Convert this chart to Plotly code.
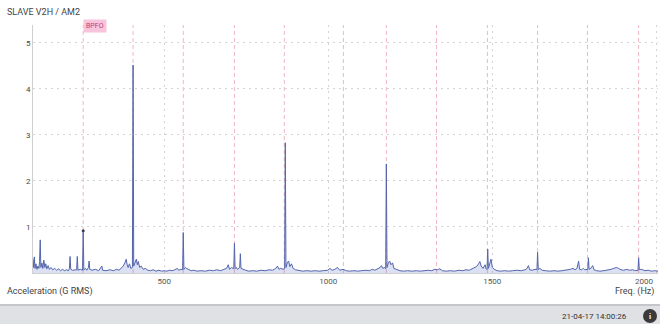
import plotly.graph_objects as go

# ---- data ----
freq_hz = [100, 102, 104, 106, 109, 112, 115, 118, 120, 122, 124, 127, 130, 133, 136, 139, 142, 146, 150, 155,
           160, 166, 172, 178, 184, 190, 196, 202, 208, 211, 213, 215, 220, 233, 235, 237, 244, 251, 253, 255,
           260, 264, 269, 271, 273, 280, 290, 300, 310, 312, 322, 335, 345, 355, 362, 368, 374, 380, 384, 387,
           390, 394, 398, 403, 405, 407, 411, 415, 418, 421, 425, 430, 436, 442, 450, 458, 466, 475, 484, 492,
           500, 508, 516, 524, 532, 540, 544, 550, 556, 558, 560, 565, 568, 575, 582, 590, 600, 612, 625, 638,
           650, 660, 672, 682, 690, 695, 699, 705, 712, 714, 716, 720, 723, 730, 732, 734, 740, 748, 758, 770,
           782, 795, 808, 820, 830, 840, 845, 850, 855, 862, 867, 869, 871, 875, 879, 883, 888, 893, 900, 910,
           922, 935, 948, 960, 972, 985, 998, 1005, 1012, 1020, 1028, 1035, 1045, 1055, 1065, 1078, 1090, 1102,
           1115, 1125, 1135, 1142, 1150, 1158, 1162, 1166, 1172, 1175, 1177, 1179, 1183, 1187, 1191, 1196, 1200,
           1208, 1218, 1230, 1242, 1255, 1268, 1280, 1292, 1305, 1315, 1325, 1333, 1340, 1348, 1360, 1372, 1385,
           1398, 1410, 1420, 1430, 1438, 1445, 1452, 1458, 1462, 1466, 1472, 1478, 1481, 1484, 1486, 1488, 1492,
           1496, 1500, 1506, 1515, 1525, 1538, 1550, 1562, 1575, 1588, 1600, 1606, 1610, 1614, 1622, 1630, 1636,
           1638, 1640, 1645, 1652, 1662, 1675, 1688, 1700, 1712, 1725, 1738, 1746, 1752, 1758, 1763, 1766, 1772,
           1778, 1782, 1791, 1793, 1795, 1800, 1806, 1810, 1818, 1828, 1840, 1852, 1862, 1870, 1878, 1885, 1892,
           1900, 1910, 1918, 1928, 1936, 1944, 1946, 1948, 1955, 1965, 1975, 1985, 1995, 2005]
amp_g = [0.30, 0.12, 0.35, 0.10, 0.20, 0.08, 0.15, 0.10, 0.25, 0.72, 0.12, 0.22, 0.10, 0.28, 0.12, 0.20, 0.09, 0.16, 0.08, 0.12,
         0.07, 0.10, 0.06, 0.09, 0.05, 0.08, 0.05, 0.07, 0.05, 0.10, 0.36, 0.08, 0.06, 0.07, 0.36, 0.06, 0.08, 0.06, 0.92, 0.07,
         0.10, 0.06, 0.12, 0.26, 0.08, 0.06, 0.08, 0.05, 0.15, 0.06, 0.05, 0.07, 0.05, 0.08, 0.06, 0.10, 0.14, 0.22, 0.30, 0.18,
         0.12, 0.20, 0.10, 0.12, 4.52, 0.15, 0.22, 0.30, 0.18, 0.25, 0.12, 0.15, 0.08, 0.10, 0.06, 0.05, 0.07, 0.04, 0.06, 0.04,
         0.05, 0.04, 0.06, 0.05, 0.07, 0.10, 0.06, 0.08, 0.07, 0.88, 0.08, 0.12, 0.10, 0.07, 0.05, 0.06, 0.04, 0.05, 0.04, 0.06,
         0.05, 0.07, 0.05, 0.08, 0.10, 0.18, 0.08, 0.12, 0.09, 0.65, 0.10, 0.12, 0.08, 0.12, 0.42, 0.10, 0.08, 0.06, 0.04, 0.05,
         0.04, 0.06, 0.05, 0.07, 0.06, 0.10, 0.15, 0.08, 0.10, 0.08, 0.10, 2.83, 0.12, 0.22, 0.26, 0.14, 0.20, 0.10, 0.07, 0.05,
         0.04, 0.05, 0.04, 0.05, 0.04, 0.05, 0.06, 0.10, 0.06, 0.08, 0.12, 0.06, 0.08, 0.05, 0.04, 0.05, 0.04, 0.05,
         0.06, 0.05, 0.08, 0.06, 0.10, 0.12, 0.16, 0.10, 0.12, 0.09, 2.37, 0.12, 0.22, 0.26, 0.18, 0.22, 0.10,
         0.08, 0.05, 0.04, 0.05, 0.04, 0.05, 0.04, 0.05, 0.06, 0.05, 0.08, 0.07, 0.09, 0.05, 0.04, 0.05, 0.04,
         0.06, 0.05, 0.07, 0.06, 0.09, 0.12, 0.14, 0.20, 0.25, 0.15, 0.10, 0.18, 0.09, 0.08, 0.52, 0.10, 0.18,
         0.30, 0.12, 0.08, 0.05, 0.04, 0.05, 0.04, 0.05, 0.06, 0.05, 0.07, 0.10, 0.16, 0.07, 0.06, 0.08, 0.07,
         0.45, 0.08, 0.10, 0.06, 0.05, 0.04, 0.05, 0.04, 0.05, 0.06, 0.08, 0.10, 0.07, 0.10, 0.26, 0.08, 0.07,
         0.10, 0.07, 0.08, 0.33, 0.08, 0.10, 0.16, 0.07, 0.05, 0.04, 0.05, 0.06, 0.08, 0.10, 0.12, 0.10, 0.07,
         0.06, 0.08, 0.06, 0.07, 0.05, 0.06, 0.33, 0.07, 0.08, 0.05, 0.06, 0.04, 0.05, 0.04]

bpfo_lines_hz = [253, 405, 558, 714, 866, 1046, 1177, 1330, 1485, 1638, 1790, 1946]
bpfo_marker_hz = [253]
bpfo_marker_amp = [0.92]
y_ticks = [1, 2, 3, 4, 5]
x_ticks = [500, 1000, 1500, 2000]
x_tick_labels = ["500", "1000", "1500", ""]

title_text = "SLAVE V2H / AM2"
y_label = "Acceleration (G RMS)"
x_label = "Freq. (Hz)"
timestamp = "21-04-17 14:00:26"

# ---- geometry helpers ----
L, T, R, B = 33, 25, 2, 51
W, H = 660, 324
PW, PH = W - L - R, H - T - B


def px(xp):
    return (xp - L) / PW


def py(yp):
    return (H - B - yp) / PH


FONT = "Roboto, 'Noto Sans', sans-serif"

fig = go.Figure()

fig.add_trace(go.Scatter(
    x=freq_hz, y=amp_g, mode="lines",
    line=dict(color="#5465ad", width=1),
    fill="tozeroy", fillcolor="rgba(110,130,205,0.25)",
    hoverinfo="skip", showlegend=False,
))
fig.add_trace(go.Scatter(
    x=bpfo_marker_hz, y=bpfo_marker_amp, mode="markers",
    marker=dict(color="#333a55", size=3), showlegend=False, hoverinfo="skip",
))

shapes = []
for f in bpfo_lines_hz:
    shapes.append(dict(type="line", xref="x", yref="paper", x0=f, x1=f, y0=0, y1=1,
                       line=dict(color="#f1b6c2", width=1, dash="4px,3px"), layer="below"))
# bottom status bar
shapes.append(dict(type="rect", xref="paper", yref="paper", x0=px(0), x1=px(W), y0=py(H), y1=py(305),
                   fillcolor="#dfe1e4", line=dict(width=0), layer="below"))
shapes.append(dict(type="line", xref="paper", yref="paper", x0=px(0), x1=px(W), y0=py(305), y1=py(305),
                   line=dict(color="#c4c6ca", width=2)))
shapes.append(dict(type="circle", xref="paper", yref="paper", x0=px(643), x1=px(657), y0=py(323), y1=py(309),
                   fillcolor="#3a3a3a", line=dict(width=0)))

annotations = [
    dict(text=title_text, xref="paper", yref="paper", x=px(5), y=py(12), xanchor="left", yanchor="middle",
         showarrow=False, font=dict(size=9, color="#444", family=FONT)),
    dict(text="BPFO", xref="x", yref="paper", x=251, y=py(26), xanchor="left", yanchor="middle",
         showarrow=False, bgcolor="#f7c4dc", borderpad=2,
         font=dict(size=7, color="#c2407a", family=FONT)),
    dict(text=y_label, xref="paper", yref="paper", x=px(5), y=py(291), xanchor="left", yanchor="middle",
         showarrow=False, font=dict(size=9, color="#444", family=FONT)),
    dict(text=x_label, xref="paper", yref="paper", x=px(656), y=py(291), xanchor="right", yanchor="middle",
         showarrow=False, font=dict(size=9, color="#444", family=FONT)),
    dict(text="2000", xref="paper", yref="paper", x=px(655), y=py(281), xanchor="right", yanchor="middle",
         showarrow=False, font=dict(size=8, color="#555", family=FONT)),
    dict(text=timestamp, xref="paper", yref="paper", x=px(629), y=py(316), xanchor="right", yanchor="middle",
         showarrow=False, font=dict(size=8, color="#333", family=FONT)),
    dict(text="<b>i</b>", xref="paper", yref="paper", x=px(650), y=py(316), xanchor="center", yanchor="middle",
         showarrow=False, font=dict(size=8, color="white", family=FONT)),
]

fig.update_layout(
    width=W, height=H,
    margin=dict(l=L, r=R, t=T, b=B),
    paper_bgcolor="white", plot_bgcolor="white",
    shapes=shapes, annotations=annotations,
    xaxis=dict(range=[100, 2005], tickvals=x_ticks, ticktext=x_tick_labels,
               showgrid=True, gridcolor="#d4d4d4", griddash="2px,4px", gridwidth=1,
               showline=True, linecolor="#d0d0d0", linewidth=1,
               ticks="", zeroline=False,
               tickfont=dict(size=8, color="#555", family=FONT)),
    yaxis=dict(range=[0, 5.39], tickvals=y_ticks,
               showgrid=True, gridcolor="#d4d4d4", griddash="2px,4px", gridwidth=1,
               showline=True, linecolor="#cfcfcf", linewidth=1,
               ticks="", zeroline=False,
               tickfont=dict(size=8, color="#444", family=FONT)),
)

fig.write_html("out.html", config={"displayModeBar": False},
               post_script="document.body.style.margin='0';document.body.style.overflow='hidden';")
